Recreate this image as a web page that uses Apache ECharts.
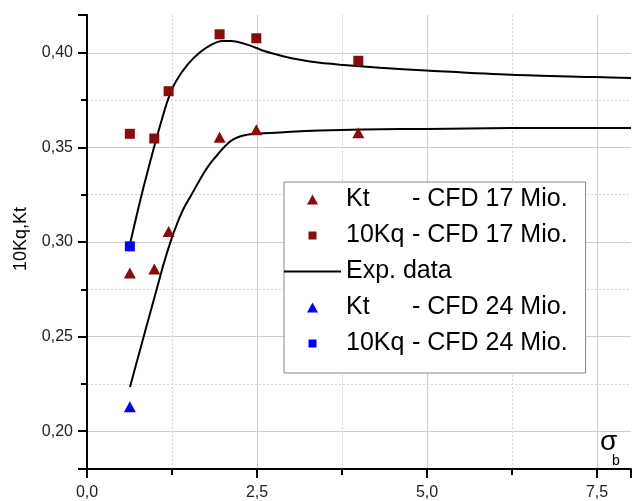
<!DOCTYPE html>
<html>
<head>
<meta charset="utf-8">
<script src="https://cdn.jsdelivr.net/npm/echarts@6/dist/echarts.min.js"></script>
<style>
html,body{margin:0;padding:0;background:#fff;}
#chart{width:633px;height:501px;}
</style>
</head>
<body>
<div id="chart"></div>
<script>
// ---- data ----
const cfdX = [0.63, 0.99, 1.2, 1.95, 2.49, 3.99];
const kt17 = [0.2836, 0.2857, 0.3055, 0.3554, 0.3594, 0.3577];
const kq17 = [0.3572, 0.3547, 0.3797, 0.4098, 0.4077, 0.3958];
const cfd24X = [0.63];
const kt24 = [0.2129];
const kq24 = [0.2977];
const expKqX = [0.632, 0.809, 0.985, 1.088, 1.191, 1.309, 1.485, 1.662, 1.838, 1.985, 2.118, 2.368, 2.618, 2.882, 3.132, 3.426, 3.721, 4.309, 4.985, 6.235, 7.485, 8.0];
const expKqY = [0.2989, 0.3258, 0.3500, 0.3632, 0.3753, 0.3850, 0.3940, 0.4003, 0.4045, 0.4063, 0.4063, 0.4042, 0.4008, 0.3982, 0.3963, 0.3947, 0.3937, 0.3921, 0.3907, 0.3884, 0.3872, 0.3867];
const expKtX = [0.632, 0.853, 1.074, 1.147, 1.221, 1.294, 1.416, 1.540, 1.662, 1.784, 1.907, 2.029, 2.151, 2.299, 2.496, 2.691, 3.426, 4.985, 7.485, 8.0];
const expKtY = [0.2234, 0.2525, 0.2815, 0.2908, 0.2993, 0.3068, 0.3173, 0.3252, 0.3331, 0.3401, 0.3456, 0.3506, 0.3542, 0.3563, 0.3573, 0.3576, 0.3589, 0.3598, 0.3603, 0.3603];
const legendNames = ['Kt - CFD 17 Mio.', '10Kq - CFD 17 Mio.', 'Exp. data', 'Kt - CFD 24 Mio.', '10Kq - CFD 24 Mio.'];
const xLabelName = 'σ';
const xLabelSub = 'b';
const yLabelName = '10Kq,Kt';

const zip = (xs, ys) => xs.map((x, i) => [x, ys[i]]);
const FONT = 'Liberation Sans, Arial, sans-serif';
const DARKRED = '#8b0a0a';
const BLUE = '#0000ff';
// legend icons: invisible corner points keep the 57x10 box so the marker is not stretched
const LINE_ICON = 'path://M0,0L57,0L57,2L0,2Z';
const TRI_ICON = 'path://M0,0L0,0M57,10L57,10M23,10L28.5,0L34,10Z';
const SQ_ICON = 'path://M0,0L0,0M57,10L57,10M24.5,1L32.5,1L32.5,9L24.5,9Z';

const chart = echarts.init(document.getElementById('chart'), null, {renderer: 'canvas'});
chart.setOption({
  animation: false,
  backgroundColor: '#fff',
  grid: {left: 87, right: 2, top: 15, bottom: 31},
  xAxis: {
    type: 'value', min: 0, max: 8, interval: 2.5,
    axisLine: {show: true, onZero: false, lineStyle: {color: '#000', width: 2}},
    axisTick: {show: true, length: 9, lineStyle: {color: '#000', width: 2}},
    minorTick: {show: true, splitNumber: 2, length: 6, lineStyle: {color: '#000', width: 2}},
    axisLabel: {showMaxLabel: false, margin: 16, color: '#222', fontSize: 16, fontFamily: FONT,
      formatter: v => v.toFixed(1).replace('.', ',')},
    splitLine: {show: true, showMaxLine: false, showMinLine: false, lineStyle: {color: '#cccccc', width: 1}},
    minorSplitLine: {show: true, lineStyle: {color: '#d6d6d6', width: 1, type: [2, 2]}}
  },
  yAxis: {
    type: 'value', min: 0.18, max: 0.42, splitNumber: 5,
    name: yLabelName, nameLocation: 'middle', nameGap: 57, nameRotate: 90,
    nameTextStyle: {color: '#000', fontSize: 18, fontFamily: FONT, padding: [0, 0, 0, 6]},
    axisLine: {show: true, onZero: false, lineStyle: {color: '#000', width: 2}},
    axisTick: {show: true, length: 9, lineStyle: {color: '#000', width: 2}},
    minorTick: {show: true, splitNumber: 2, length: 6, lineStyle: {color: '#000', width: 2}},
    axisLabel: {showMaxLabel: false, showMinLabel: false, margin: 14, color: '#222', fontSize: 16, fontFamily: FONT,
      formatter: v => v.toFixed(2).replace('.', ',')},
    splitLine: {show: true, showMaxLine: false, showMinLine: false, lineStyle: {color: '#cccccc', width: 1}},
    minorSplitLine: {show: true, lineStyle: {color: '#d6d6d6', width: 1, type: [2, 2]}}
  },
  legend: {
    orient: 'vertical', left: 284, top: 182,
    data: [
      {name: legendNames[0], icon: TRI_ICON, itemStyle: {color: DARKRED}},
      {name: legendNames[1], icon: SQ_ICON, itemStyle: {color: DARKRED}},
      {name: legendNames[2], icon: LINE_ICON, itemStyle: {color: '#000'}},
      {name: legendNames[3], icon: TRI_ICON, itemStyle: {color: BLUE}},
      {name: legendNames[4], icon: SQ_ICON, itemStyle: {color: BLUE}}
    ],
    selectedMode: false,
    backgroundColor: '#fff', borderColor: '#888', borderWidth: 1,
    padding: [5, 18, 17, 0],
    itemWidth: 57, itemHeight: 10, itemGap: 11,
    textStyle: {
      color: '#000', fontFamily: FONT, fontSize: 25,
      rich: {
        a: {fontSize: 25, fontFamily: FONT, color: '#000', width: 66},
        b: {fontSize: 25, fontFamily: FONT, color: '#000'},
        c: {fontSize: 25, fontFamily: FONT, color: '#000'}
      }
    },
    formatter: name => {
      const i = name.indexOf(' - ');
      if (i < 0) return '{c|' + name + '}';
      return '{a|' + name.slice(0, i) + '}{b|' + name.slice(i + 1) + '}';
    }
  },
  graphic: [
    {type: 'text', left: 600, top: 428, silent: true,
      style: {text: xLabelName, font: '28px ' + FONT, fill: '#000'}},
    {type: 'text', left: 612, top: 454, silent: true,
      style: {text: xLabelSub, font: '14px ' + FONT, fill: '#000'}}
  ],
  series: [
    {name: 'Exp. data', type: 'line', data: zip(expKqX, expKqY), smooth: 0.3, symbol: 'none',
      lineStyle: {color: '#000', width: 2}, itemStyle: {color: '#000'}, z: 2},
    {name: 'Exp. data', type: 'line', data: zip(expKtX, expKtY), smooth: 0.5, symbol: 'none',
      lineStyle: {color: '#000', width: 2}, itemStyle: {color: '#000'}, z: 2},
    {name: legendNames[0], type: 'scatter', data: zip(cfdX, kt17), symbol: 'triangle', symbolSize: [12, 11],
      itemStyle: {color: DARKRED, opacity: 1}, z: 3},
    {name: legendNames[1], type: 'scatter', data: zip(cfdX, kq17), symbol: 'rect', symbolSize: 10,
      itemStyle: {color: DARKRED, opacity: 1}, z: 3},
    {name: legendNames[3], type: 'scatter', data: zip(cfd24X, kt24), symbol: 'triangle', symbolSize: [12, 11],
      itemStyle: {color: BLUE, opacity: 1}, z: 3},
    {name: legendNames[4], type: 'scatter', data: zip(cfd24X, kq24), symbol: 'rect', symbolSize: 10,
      itemStyle: {color: BLUE, opacity: 1}, z: 3}
  ]
});
</script>
</body>
</html>
